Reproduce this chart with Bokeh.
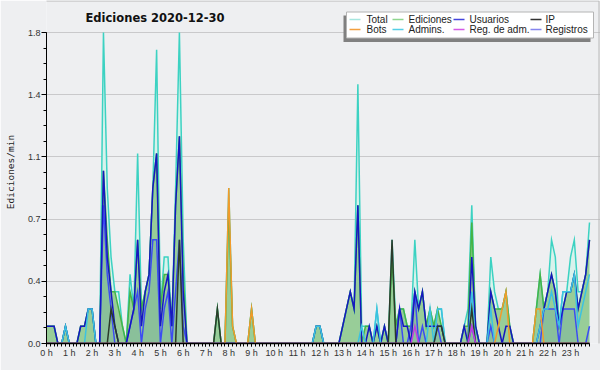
import numpy as np
from bokeh.plotting import figure
from bokeh.models import (Range1d, FixedTicker, PrintfTickFormatter, CustomJSTickFormatter,
                          Label, BoxAnnotation, ColumnDataSource)
from bokeh.embed import file_html
from bokeh.resources import INLINE

# ---------------- data (10-minute bins, edits per minute) ----------------
hour_labels = [f"{h} h" for h in range(24)]
y_ticks = [0.0, 0.36, 0.72, 1.08, 1.44, 1.8]
title_text = "Ediciones  2020-12-30"
y_label = "Ediciones/min"
legend_labels = ["Total", "Ediciones", "Usuarios", "IP", "Bots", "Admins.", "Reg. de adm.", "Registros"]

total = [
    .1, .1, .1, 0, 0, .1,   0, 0, 0, .1, .1, .2,
    .2, 0, 0, 1.8, .9, .5,  .3, .3, .1, 0, .4, .2,
    1.1, .2, .3, .4, .9, 1.7,  .2, .5, .5, .1, .9, 1.8,
    .6, 0, 0, 0, 0, 0,      0, 0, 0, .2, 0, 0,
    .9, .1, 0, 0, 0, 0,     .2, 0, 0, 0, 0, 0,
    0, 0, 0, 0, 0, 0,       0, 0, 0, 0, 0, .1,
    .1, 0, 0, 0, 0, 0,      .1, .2, .3, .2, 1.5, .1,
    .1, .1, 0, .2, 0, .1,   0, .6, .1, .2, .2, .1,
    .1, .6, .2, .3, .1, .2, .1, .2, .2, 0, 0, 0,
    0, 0, .1, .2, .8, .1,   0, 0, 0, .5, .3, .2,
    .2, .3, .1, 0, 0, 0,    0, 0, 0, .2, .4, .2,
    .3, .6, .5, .1, .3, .3, .5, .6, .3, .3, .4, .7,
]
ediciones = [
    .1, .1, .1, 0, 0, .1,   0, 0, 0, .1, .1, .2,
    .2, 0, 0, 1.0, .6, .3,  .3, .2, .1, 0, .3, .2,
    .6, .2, .3, .4, .9, 1.1,  .2, .4, .4, .1, .8, 1.2,
    .4, 0, 0, 0, 0, 0,      0, 0, 0, .2, 0, 0,
    .8, .1, 0, 0, 0, 0,     .2, 0, 0, 0, 0, 0,
    0, 0, 0, 0, 0, 0,       0, 0, 0, 0, 0, .1,
    .1, 0, 0, 0, 0, 0,      .1, .2, .3, .2, .8, 0,
    .1, .1, 0, .1, 0, .1,   0, .5, .1, .2, .2, .1,
    .1, .3, .2, .3, .1, .2, .1, .2, .1, 0, 0, 0,
    0, 0, .1, .1, .7, .1,   0, 0, 0, .3, .2, .2,
    .2, .3, .1, 0, 0, 0,    0, 0, 0, .2, .4, .2,
    .3, .4, .3, .1, .2, .3, .3, .4, .2, .3, .4, .6,
]
usuarios = [
    .1, .1, .1, 0, 0, .1,   0, 0, 0, .1, .1, .2,
    .2, 0, 0, 1.0, .5, .3,  .1, 0, 0, 0, .1, .2,
    .6, .1, .3, .4, .9, 1.1,  .1, .3, .4, .1, .8, 1.2,
    .3, 0, 0, 0, 0, 0,      0, 0, 0, 0, 0, 0,
    0, 0, 0, 0, 0, 0,       0, 0, 0, 0, 0, 0,
    0, 0, 0, 0, 0, 0,       0, 0, 0, 0, 0, .1,
    .1, 0, 0, 0, 0, 0,      .1, .2, .3, .2, .8, 0,
    0, .1, 0, .1, 0, .1,    0, 0, 0, .2, .1, .1,
    0, .3, .2, .3, .1, .1,  .1, .1, .1, 0, 0, 0,
    0, 0, .1, 0, .5, .1,    0, 0, 0, .3, .2, .1,
    0, .1, .1, 0, 0, 0,     0, 0, 0, 0, .1, .2,
    .3, .4, .3, .1, .2, .3, .3, .4, .2, .3, .4, .6,
]
ip = [
    0, 0, 0, 0, 0, 0,       0, 0, 0, 0, 0, 0,
    0, 0, 0, 0, 0, .2,      .1, 0, 0, 0, 0, 0,
    0, 0, 0, 0, 0, 0,       0, 0, 0, 0, 0, .6,
    0, 0, 0, 0, 0, 0,       0, 0, 0, .2, 0, 0,
    0, 0, 0, 0, 0, 0,       0, 0, 0, 0, 0, 0,
    0, 0, 0, 0, 0, 0,       0, 0, 0, 0, 0, 0,
    0, 0, 0, 0, 0, 0,       0, 0, 0, 0, 0, 0,
    0, 0, 0, 0, 0, 0,       0, .6, 0, 0, 0, 0,
    0, 0, 0, 0, 0, 0,       0, .1, .1, 0, 0, 0,
    0, 0, 0, 0, .2, 0,      0, 0, 0, 0, 0, 0,
    0, 0, 0, 0, 0, 0,       0, 0, 0, 0, 0, 0,
    0, 0, 0, 0, 0, 0,       0, 0, 0, 0, 0, 0,
]
bots = [
    0, 0, 0, 0, 0, 0,       0, 0, 0, 0, 0, 0,
    0, 0, 0, 0, 0, 0,       0, 0, 0, 0, 0, 0,
    0, 0, 0, 0, 0, 0,       0, 0, 0, 0, 0, 0,
    0, 0, 0, 0, 0, 0,       0, 0, 0, 0, 0, 0,
    .9, .1, 0, 0, 0, 0,     .2, 0, 0, 0, 0, 0,
    0, 0, 0, 0, 0, 0,       0, 0, 0, 0, 0, 0,
    0, 0, 0, 0, 0, 0,       0, 0, 0, 0, 0, 0,
    0, 0, 0, 0, 0, 0,       0, 0, 0, 0, 0, 0,
    0, 0, 0, 0, 0, 0,       0, 0, 0, 0, 0, 0,
    0, 0, 0, 0, 0, 0,       0, 0, 0, 0, 0, .1,
    .2, .3, 0, 0, 0, 0,     0, 0, 0, .2, .2, 0,
    0, 0, 0, 0, 0, 0,       0, 0, 0, 0, 0, 0,
]
admins = [
    0, 0, 0, 0, 0, .1,      0, 0, 0, 0, 0, .2,
    .2, 0, 0, 0, 0, 0,      0, 0, 0, 0, 0, 0,
    0, 0, 0, 0, 0, 0,       0, 0, 0, 0, 0, 0,
    0, 0, 0, 0, 0, 0,       0, 0, 0, 0, 0, 0,
    0, 0, 0, 0, 0, 0,       0, 0, 0, 0, 0, 0,
    0, 0, 0, 0, 0, 0,       0, 0, 0, 0, 0, .1,
    .1, 0, 0, 0, 0, 0,      0, 0, 0, 0, 0, .1,
    0, 0, 0, .2, 0, 0,      0, 0, 0, 0, 0, 0,
    0, 0, 0, 0, 0, .2,      0, .2, .2, 0, 0, 0,
    0, 0, 0, 0, .3, 0,      0, 0, 0, .2, 0, 0,
    0, 0, 0, 0, 0, 0,       0, 0, 0, 0, .1, .2,
    .2, .3, .2, .1, .3, .3, .3, .4, .1, .2, .3, .4,
]
reg_adm = [0.0] * 97 + [.1] + [0.0] * 14 + [.1] + [0.0] * 31
registros = [
    0, 0, 0, 0, 0, 0,       0, 0, 0, 0, 0, 0,
    0, 0, 0, .8, .4, .2,    0, 0, 0, 0, .1, .2,
    .3, 0, .2, .3, .6, .6,  0, .2, .3, 0, .3, .6,
    .1, 0, 0, 0, 0, 0,      0, 0, 0, 0, 0, 0,
    0, 0, 0, 0, 0, 0,       0, 0, 0, 0, 0, 0,
    0, 0, 0, 0, 0, 0,       0, 0, 0, 0, 0, 0,
    0, 0, 0, 0, 0, 0,       0, 0, 0, 0, 0, 0,
    0, 0, 0, 0, 0, 0,       0, 0, 0, .2, 0, 0,
    .1, .3, 0, .1, 0, 0,    0, .1, 0, 0, 0, 0,
    0, 0, 0, 0, .1, 0,      0, 0, 0, .1, 0, 0,
    0, 0, 0, 0, 0, 0,       0, 0, 0, 0, 0, .2,
    .2, .2, .2, 0, .2, .2,  .2, .2, 0, 0, 0, .1,
]

# ---------------- styling / layout ----------------
BG = "#eeeff1"
W, H = 600, 370
LEFT, BOTTOM = 46, 27
PXH = 543 / 143 * 6          # pixels per hour
PXV = 311 / 1.8              # pixels per unit
FW, FH = W - LEFT, H - BOTTOM

def dx(fx):
    return (fx - LEFT) / PXH

def dy(fy):
    return (FH - fy) / PXV

x = np.arange(len(total)) / 6.0
src = ColumnDataSource(dict(x=x, total=total, ediciones=ediciones, usuarios=usuarios, ip=ip,
                            bots=bots, admins=admins, reg_adm=reg_adm, registros=registros))

p = figure(width=W, height=H, output_backend="svg", toolbar_location=None, title=None,
           x_range=Range1d(0, FW / PXH), y_range=Range1d(0, FH / PXV),
           min_border_left=LEFT, min_border_right=0, min_border_top=0, min_border_bottom=BOTTOM,
           background_fill_color=BG, border_fill_color=BG)
p.outline_line_color = None

# axes
xt = FixedTicker(ticks=list(range(24)), minor_ticks=[i / 6 for i in range(len(total))])
xa = p.xaxis[0]
xa.ticker = xt
xa.formatter = CustomJSTickFormatter(args=dict(labels=hour_labels),
                                     code="return labels[Math.round(tick)] || ''")
xa.bounds = (0, (len(total) - 1) / 6)
xa.axis_line_color = "black"
xa.axis_line_width = 1.5
xa.major_tick_out = 3
xa.major_tick_in = 0
xa.minor_tick_out = 3
xa.minor_tick_in = 0
xa.major_tick_line_color = "black"
xa.minor_tick_line_color = "black"
xa.major_label_standoff = 1
xa.major_label_text_font = "Liberation Sans"
xa.major_label_text_font_size = "9px"
xa.major_label_text_color = "#333333"

yt = FixedTicker(ticks=y_ticks, minor_ticks=[k * 0.09 for k in range(21)])
ya = p.yaxis[0]
ya.ticker = yt
ya.formatter = PrintfTickFormatter(format="%.1f")
ya.bounds = (0, 1.8)
ya.axis_line_color = "black"
ya.major_tick_out = 5
ya.major_tick_in = 0
ya.minor_tick_out = 3
ya.minor_tick_in = 0
ya.major_label_standoff = 1
ya.major_label_text_font = "Liberation Sans"
ya.major_label_text_font_size = "9px"
ya.major_label_text_color = "#333333"
ya.axis_label = y_label
ya.axis_label_text_font = "DejaVu Sans Mono"
ya.axis_label_text_font_size = "9.5px"
ya.axis_label_text_font_style = "normal"
ya.axis_label_text_color = "#222222"
ya.axis_label_standoff = 9

p.xgrid.visible = False
p.ygrid.ticker = yt
p.ygrid.grid_line_color = "#c9c9cb"
p.ygrid.grid_line_width = 1

# fills
p.varea("x", y1=0, y2="total", source=src, fill_color="#d8f2ec")
p.varea("x", y1=0, y2="ediciones", source=src, fill_color="#98cd98")
p.varea("x", y1=0, y2="registros", source=src, fill_color="#2e6aa8", fill_alpha=0.13)

# lines
line_styles = [
    ("total", "#3cd2c2"),
    ("ediciones", "#46b446"),
    ("registros", "#3c4cf2"),
    ("usuarios", "#1616c2"),
    ("admins", "#3bc2e2"),
    ("ip", "#2b3b2b"),
    ("bots", "#f29b2a"),
    ("reg_adm", "#c23ee0"),
]
for col, c in line_styles:
    p.line("x", col, source=src, line_color=c, line_width=1.5, line_join="miter")

# outer frame of the image
p.add_layout(BoxAnnotation(left=dx(0.5), right=dx(598.5), top=dy(0.5), bottom=dy(368.5),
                           fill_alpha=0, line_color="#b8b8b8", line_alpha=1, line_width=1))

# title and credits
p.add_layout(Label(x=dx(85), y=dy(17.5), text=title_text, text_font="DejaVu Sans",
                   text_font_style="bold", text_font_size="11.5px", text_color="#111111",
                   text_baseline="middle", text_align="left"))
p.add_layout(Label(x=dx(300), y=dy(365), text="wikiscan.org", text_font="Liberation Sans",
                   text_font_size="8.5px", text_color="#333333", text_align="center",
                   text_baseline="alphabetic"))
p.add_layout(Label(x=dx(589), y=dy(364), text="CC BY-SA 3.0", text_font="Liberation Sans",
                   text_font_size="6.5px", text_color="#333333", text_align="right",
                   text_baseline="alphabetic"))

# legend (box with shadow, 4 columns x 2 rows)
p.add_layout(BoxAnnotation(left=dx(343), right=dx(590), top=dy(15), bottom=dy(41.5),
                           fill_color="#808080", fill_alpha=1, line_color=None))
p.add_layout(BoxAnnotation(left=dx(346), right=dx(593), top=dy(11.5), bottom=dy(37.5),
                           fill_color="white", fill_alpha=1, line_color="#b4b4b4", line_alpha=1,
                           line_width=1))
swatch_colors = ["#a6e6df", "#8fd68f", "#4444dd", "#333333",
                 "#f3a040", "#55cfe6", "#d45ae6", "#8585ee"]
col_sw = [349, 392, 453, 530]
col_tx = [366, 408, 469, 545]
row_y = [19, 29]
for k, (lbl, c) in enumerate(zip(legend_labels, swatch_colors)):
    r, cidx = divmod(k, 4)
    yy = row_y[r]
    p.add_layout(BoxAnnotation(left=dx(col_sw[cidx]), right=dx(col_sw[cidx] + 11),
                               top=dy(yy - 0.75), bottom=dy(yy + 0.75),
                               fill_color=c, fill_alpha=1, line_color=None))
    p.add_layout(Label(x=dx(col_tx[cidx]), y=dy(yy), text=lbl, text_font="Liberation Sans",
                       text_font_size="10px", text_color="#222222",
                       text_baseline="middle", text_align="left"))

open("out.html", "w").write(file_html(p, INLINE))
